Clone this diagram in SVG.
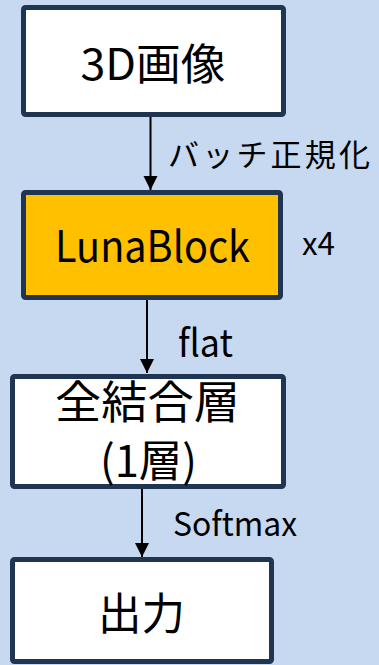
<svg xmlns="http://www.w3.org/2000/svg" width="379" height="665" viewBox="0 0 379 665">
<style>
.box{stroke:#1F3552;stroke-width:5;}
.w{fill:#FFFFFF;}
.y{fill:#FFC000;}
text{font-family:"Noto Sans CJK JP","Noto Sans",sans-serif;fill:#000;}
.c{text-anchor:middle;}
.conn{stroke:#000;stroke-width:2;fill:none;}
</style>
<defs>
<marker id="ah" markerUnits="userSpaceOnUse" markerWidth="14" markerHeight="16" refX="14" refY="7" orient="auto">
<path d="M0,0 L14,7 L0,14 Z" fill="#000"/>
</marker>
</defs>
<rect x="0" y="0" width="379" height="665" fill="#C6D9F0"/>
<g id="connectors">
<line class="conn" x1="150.5" y1="117" x2="150.5" y2="190" marker-end="url(#ah)"/>
<line class="conn" x1="147" y1="300" x2="147" y2="373" marker-end="url(#ah)"/>
<line class="conn" x1="142" y1="482" x2="142" y2="557" marker-end="url(#ah)"/>
<text x="168" y="166" font-size="31" textLength="202" lengthAdjust="spacing">バッチ正規化</text>
<text x="178" y="357" font-size="38" textLength="55" lengthAdjust="spacingAndGlyphs">flat</text>
<text x="173" y="536" font-size="33" textLength="124" lengthAdjust="spacingAndGlyphs">Softmax</text>
</g>
<g id="node-input">
<rect class="box w" x="23.5" y="7.5" width="260" height="107" rx="2"/>
<text class="c" x="153" y="80" font-size="43" textLength="145" lengthAdjust="spacingAndGlyphs">3D画像</text>
</g>
<g id="node-lunablock">
<rect class="box y" x="23.5" y="192.5" width="257" height="105" rx="2"/>
<text class="c" x="152.5" y="262" font-size="43" textLength="195" lengthAdjust="spacingAndGlyphs">LunaBlock</text>
<text x="302" y="255" font-size="32" textLength="33" lengthAdjust="spacingAndGlyphs">x4</text>
</g>
<g id="node-fc">
<rect class="box w" x="12.5" y="376.5" width="271" height="110" rx="2"/>
<text class="c" x="147.5" y="419" font-size="45" textLength="185" lengthAdjust="spacingAndGlyphs">全結合層</text>
<text class="c" x="148.5" y="477" font-size="44" textLength="97" lengthAdjust="spacingAndGlyphs">(1層)</text>
</g>
<g id="node-output">
<rect class="box w" x="12.5" y="559.5" width="259" height="102" rx="2"/>
<text class="c" x="141.5" y="630" font-size="44" textLength="87" lengthAdjust="spacingAndGlyphs">出力</text>
</g>
</svg>
